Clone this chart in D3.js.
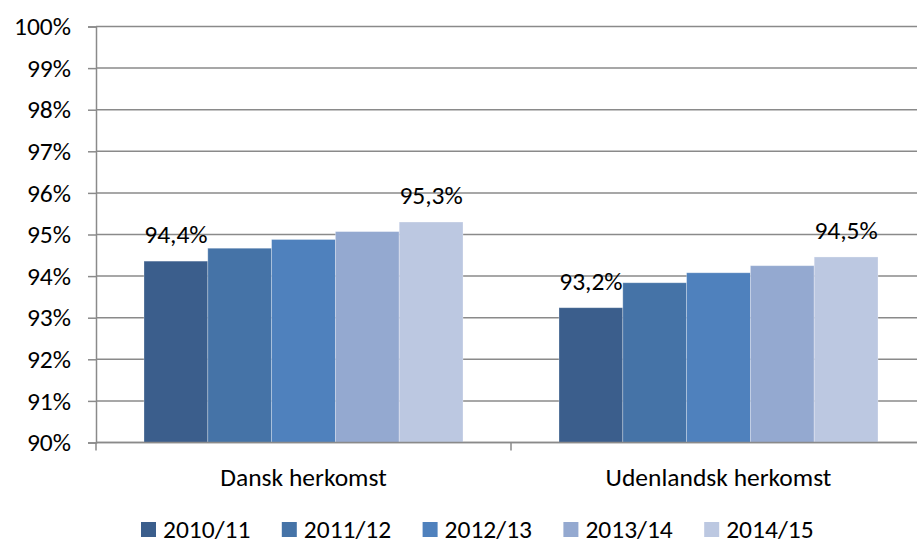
<!DOCTYPE html>
<html>
<head>
<meta charset="utf-8">
<script src="https://cdn.jsdelivr.net/npm/d3@7"></script>
<style>
  body { margin: 0; background: #fff; }
  text { font-family: Carlito, Calibri, Lato, sans-serif; fill: #000; }
</style>
</head>
<body>
<svg id="chart"></svg>
<script>
// data
const categories = ["Dansk herkomst", "Udenlandsk herkomst"];
const seasons = ["2010/11", "2011/12", "2012/13", "2013/14", "2014/15"];
const dansk = [94.36, 94.67, 94.88, 95.07, 95.30];
const udenlandsk = [93.24, 93.84, 94.08, 94.25, 94.46];
const yTicks = [90, 91, 92, 93, 94, 95, 96, 97, 98, 99, 100];
const colors = ["#3B5E8C", "#4573A7", "#4F81BD", "#94A9D0", "#BCC8E1"];

const seriesValues = [dansk, udenlandsk];
const fontSize = "25.5px";

const config = {
    width: 917,
    height: 544,
    margin: { top: 26.5, left: 96 },
    plotWidth: 830,
    plotHeight: 416
};

const svg = d3.select("#chart")
    .attr("width", config.width)
    .attr("height", config.height);

const chart = svg.append("g")
    .attr("transform", `translate(${config.margin.left}, ${config.margin.top})`);

const yscale = d3.scaleLinear()
    .domain([90, 100])
    .range([config.plotHeight, 0]);

const xscale = d3.scaleBand()
    .domain(categories)
    .range([0, config.plotWidth])
    .paddingInner(0)
    .paddingOuter(0);

const groupPad = 48;
const inner = d3.scaleBand()
    .domain(seasons)
    .range([groupPad, xscale.bandwidth() - groupPad])
    .padding(0);

// gridlines
chart.append("g")
    .selectAll("line")
    .data(yTicks)
    .join("line")
    .attr("x1", 0)
    .attr("x2", config.plotWidth)
    .attr("y1", d => yscale(d))
    .attr("y2", d => yscale(d))
    .attr("stroke", "#8a8a8a")
    .attr("stroke-width", 1.5);

// bars
const groups = chart.append("g")
    .selectAll("g")
    .data(categories)
    .join("g")
    .attr("transform", d => `translate(${xscale(d)}, 0)`);

groups.selectAll("rect")
    .data((d, i) => seriesValues[i].map((v, j) => ({ season: seasons[j], value: v, idx: j })))
    .join("rect")
    .attr("x", d => inner(d.season))
    .attr("y", d => yscale(d.value))
    .attr("width", inner.bandwidth())
    .attr("height", d => yscale(90) - yscale(d.value))
    .attr("fill", d => colors[d.idx])
    .attr("stroke", "rgba(255,255,255,0.35)")
    .attr("stroke-width", 0.8);

// data labels on first and last bars
groups.selectAll("text.lbl")
    .data((d, i) => seriesValues[i].map((v, j) => ({ season: seasons[j], value: v, idx: j }))
        .filter(d => d.idx === 0 || d.idx === seasons.length - 1))
    .join("text")
    .attr("class", "lbl")
    .attr("x", d => inner(d.season) + inner.bandwidth() / 2)
    .attr("y", d => yscale(d.value) - 18)
    .attr("text-anchor", "middle")
    .attr("font-size", fontSize)
    .text(d => d.value.toFixed(1).replace(".", ",") + "%");

// y axis
const yaxis = d3.axisLeft(yscale)
    .tickValues(yTicks)
    .tickSize(8)
    .tickPadding(17)
    .tickFormat(d => d + "%");

const yaxisGroup = chart.append("g").call(yaxis);
yaxisGroup.select(".domain").attr("stroke", "#8a8a8a").attr("stroke-width", 1.5);
yaxisGroup.selectAll(".tick line").attr("stroke", "#8a8a8a").attr("stroke-width", 1.5);
yaxisGroup.selectAll(".tick text")
    .attr("font-size", fontSize)
    .attr("font-family", "Carlito, Calibri, Lato, sans-serif")
    .attr("fill", "#000");

// x axis with ticks at category boundaries
const xaxisGroup = chart.append("g")
    .attr("transform", `translate(0, ${config.plotHeight})`);
xaxisGroup.append("line")
    .attr("x1", 0).attr("x2", config.plotWidth)
    .attr("stroke", "#8a8a8a").attr("stroke-width", 1.5);
xaxisGroup.selectAll("line.bound")
    .data([0, 1, 2])
    .join("line")
    .attr("class", "bound")
    .attr("x1", d => d * xscale.bandwidth())
    .attr("x2", d => d * xscale.bandwidth())
    .attr("y1", 0)
    .attr("y2", 8)
    .attr("stroke", "#8a8a8a").attr("stroke-width", 1.5);
xaxisGroup.selectAll("text")
    .data(categories)
    .join("text")
    .attr("x", d => xscale(d) + xscale.bandwidth() / 2)
    .attr("y", 43)
    .attr("text-anchor", "middle")
    .attr("font-size", fontSize)
    .text(d => d);

// legend
const legend = svg.append("g")
    .attr("transform", "translate(141, 522)");
const item = legend.selectAll("g")
    .data(seasons)
    .join("g")
    .attr("transform", (d, i) => `translate(${i * 140.8}, 0)`);
item.append("rect")
    .attr("width", 15)
    .attr("height", 15)
    .attr("fill", (d, i) => colors[i]);
item.append("text")
    .attr("x", 22)
    .attr("y", 15.5)
    .attr("font-size", fontSize)
    .text(d => d);
</script>
</body>
</html>
